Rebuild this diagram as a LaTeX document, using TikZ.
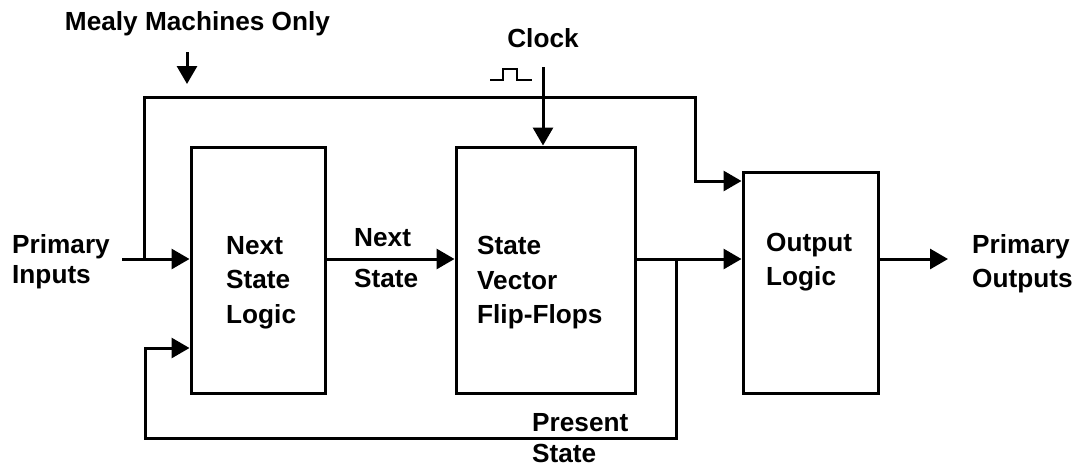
\documentclass[tikz,border=0pt]{standalone}
\usepackage{fontspec}
\setmainfont{Liberation Sans}
\usetikzlibrary{arrows.meta}
\tikzset{
  wire/.style={line width=3pt, line join=miter, line cap=butt},
  arr/.style={wire, -{Triangle[length=18pt,width=20pt]}},
  blk/.style={draw, line width=3pt, minimum width=#1, inner sep=0pt},
  lbl/.style={inner sep=0pt, anchor=north west, align=left,
    font=\fontsize{26.2}{34.5}\selectfont\bfseries},
  lblc/.style={lbl, anchor=north, align=center},
}
\begin{document}
\begin{tikzpicture}[x=1pt, y=-1pt]
\useasboundingbox (0,0) rectangle (1076,469);
% blocks
\node[blk=134pt, minimum height=246pt] (nsl) at (258,270) {};
\node[blk=179pt, minimum height=246pt] (sv) at (545.5,270) {};
\node[blk=135pt, minimum height=221pt] (out) at (810.5,282.5) {};
% texts
\node[lblc] (mealy) at (197.5,11) {Mealy Machines Only};
\node[lblc] (clock) at (543,28) {Clock};
\node[lbl, font=\fontsize{26.2}{30.5}\selectfont\bfseries] (pin) at (12,234) {Primary\\Inputs};
\node[lbl, font=\fontsize{26.2}{41}\selectfont\bfseries] (ns) at (354,228) {Next\\State};
\node[lbl] (nslt) at (226,236) {Next\\State\\Logic};
\node[lbl] (svt) at (477,236) {State\\Vector\\Flip-Flops};
\node[lbl] (outt) at (766,233) {Output\\Logic};
\node[lbl] (pout) at (972,234) {Primary\\Outputs};
\node[lbl, font=\fontsize{26.2}{31.5}\selectfont\bfseries] (ps) at (532,413) {Present\\State};
% coordinates
\coordinate (inA) at (122,259);
\coordinate (j1) at (144,259);
\coordinate (t1) at (144,97);
\coordinate (t2) at (695,97);
\coordinate (j2) at (676,259);
\coordinate (b1) at (145,438);
\coordinate (oend) at (948,259);
\coordinate (clk) at (543,67);
\coordinate (m1) at (187,52);
\coordinate (m2) at (187,84);
% connectors
\draw[arr] (inA) -- (nsl.west |- inA);
\draw[arr] (j1) -- (t1) -- (t2) |- (out.west |- 0,181);
\draw[arr] (nsl.east |- inA) -- (sv.west |- inA);
\draw[arr] (sv.east |- inA) -- (out.west |- inA);
\draw[arr] (j2) |- (b1) |- (nsl.west |- 0,348);
\draw[arr] (out.east |- inA) -- (oend);
\draw[arr] (clk) -- (clk |- sv.north);
\draw[arr] (m1) -- (m2);
% clock pulse
\draw[line width=2pt] (490,80) -- (503,80) -- (503,69) -- (517,69) -- (517,80) -- (532,80);
\end{tikzpicture}
\end{document}
